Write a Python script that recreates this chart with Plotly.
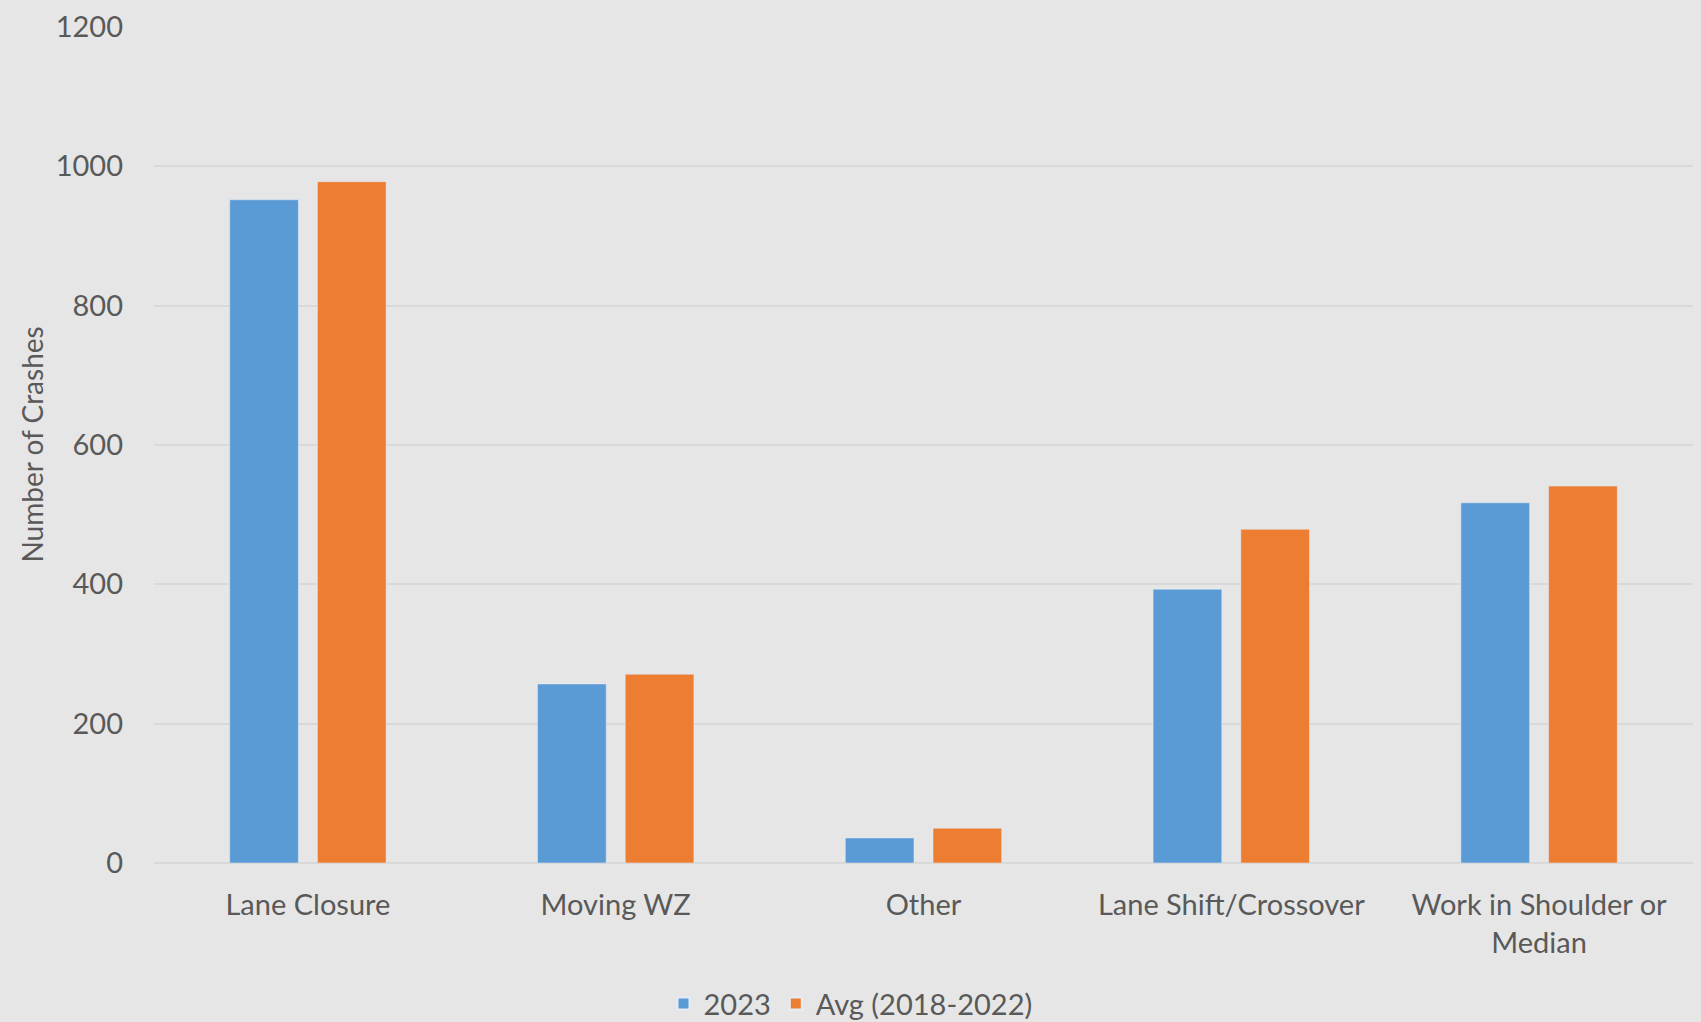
import plotly.graph_objects as go

categories = ["Lane Closure", "Moving WZ", "Other", "Lane Shift/Crossover", "Work in Shoulder or<br>Median"]
series_2023 = [952, 257, 36, 393, 517]
series_avg = [978, 271, 50, 479, 541]
tick_vals = [0, 200, 400, 600, 800, 1000, 1200]

FONT = "Lato"
TXT = "#595959"
FS = 29

fig = go.Figure()
fig.add_trace(go.Bar(x=categories, y=series_2023, name="2023", marker_color="#5B9BD5"))
fig.add_trace(go.Bar(x=categories, y=series_avg, name="Avg (2018-2022)", marker_color="#ED7D31"))

fig.update_layout(
    width=1701, height=1022,
    margin=dict(l=154, r=8, t=24, b=159),
    paper_bgcolor="#E6E6E6", plot_bgcolor="#E6E6E6",
    barmode="group", bargap=0.43, bargroupgap=0.217,
    font=dict(family=FONT, color=TXT, size=FS),
    showlegend=True,
    legend=dict(orientation="h", xref="container", yref="container", x=0.5, xanchor="center",
                y=0.018, yanchor="middle", font=dict(size=FS, color=TXT), itemsizing="constant",
                traceorder="normal"),
)
fig.update_yaxes(range=[0, 1200], tickvals=tick_vals, showgrid=True, gridcolor="#D9D9D9", gridwidth=2,
                 zeroline=True, zerolinecolor="#D9D9D9", zerolinewidth=2, showline=False,
                 ticklabelstandoff=30, tickfont=dict(size=FS, color=TXT))
fig.update_xaxes(showline=False, ticks="", tickfont=dict(size=FS, color=TXT), ticklabelstandoff=22)
fig.add_annotation(text="Number of Crashes", textangle=-90, xref="paper", yref="paper",
                   x=(32 - 154) / 1539, y=(863 - 443) / 839, xanchor="center", yanchor="middle",
                   showarrow=False, font=dict(size=28, color=TXT, family=FONT))

fig.write_html("out.html", config={"displayModeBar": False},
               post_script="document.body.style.margin='0';document.body.style.overflow='hidden';")
